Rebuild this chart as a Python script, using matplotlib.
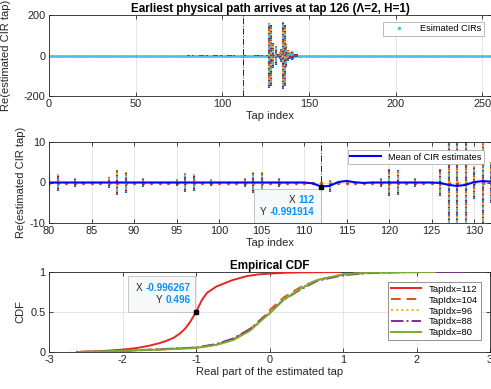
"""
CIR estimates: scatter of realizations, zoom with mean, and empirical CDF.
"""
import numpy as np
import matplotlib
matplotlib.use('Agg')
import matplotlib.pyplot as plt
import matplotlib.transforms as mtransforms
from matplotlib.lines import Line2D
from matplotlib.patches import Rectangle

plt.rcParams['font.family'] = ['Liberation Sans', 'DejaVu Sans']
plt.rcParams['axes.unicode_minus'] = False

MATLAB_COLORS = ['#0072BD', '#D95319', '#EDB120', '#7E2F8E', '#77AC30', '#4DBEEE', '#A2142F']

# taps with a visible spread of the estimated CIR (real part), half-width of the spread
stack_taps = [80, 81, 83, 87, 88, 89, 91, 95, 96, 97, 99, 103, 104, 105, 107,
              112, 113, 119, 120, 121, 123, 126, 127, 128, 129, 130, 131, 132,
              133, 134, 135, 136, 137, 138, 139, 140, 141, 142, 143]
stack_spread = [2.3, 2.2, 1.1, 1.3, 3.0, 2.6, 1.2, 0.9, 2.4, 2.2, 0.9, 1.2, 2.7, 2.5, 1.1,
                0.8, 1.5, 1.2, 3.4, 3.0, 1.1, 3.3, 160, 150, 60, 4, 45, 5,
                15, 30, 165, 150, 55, 25, 15, 20, 18, 8, 8]
n_taps = 256
noise_level = 0.0

# mean of the CIR estimates, taps 80..132
mean_taps = list(range(80, 133))
mean_vals = [0.0] * 31 + [-0.2, -0.99, -0.85, 0.1, 0.4, 0.05, -0.1, 0.0,
                          0.0, 0.0, 0.0, 0.0, 0.0, 0.0, 0.0,
                          -0.1, -0.6, -0.85, -0.6, 0.1, 0.35, 0.2]

first_path_tap = 112
tip2 = (112, -0.991914)
tip3 = (-0.996267, 0.496)

# empirical CDFs
cdf_labels = ['TapIdx=112', 'TapIdx=104', 'TapIdx=96', 'TapIdx=88', 'TapIdx=80']
cdf_x = [
    [-2.62, -2.3, -2.0, -1.8, -1.63, -1.5, -1.4, -1.3, -1.22, -1.15, -1.08, -1.0,
     -0.92, -0.85, -0.72, -0.5, -0.3, -0.15, 0.0, 0.2, 0.42, 0.7, 0.94],
    [-2.6, -2.0, -1.5, -1.0, -0.72, -0.49, -0.26, -0.08, 0.0, 0.19, 0.42, 0.65,
     1.0, 1.33, 1.7, 2.0, 2.3],
    [-2.55, -2.0, -1.5, -1.0, -0.72, -0.49, -0.26, -0.08, 0.0, 0.19, 0.42, 0.65,
     1.0, 1.33, 1.7, 2.0, 2.2],
    [-2.6, -2.0, -1.5, -1.0, -0.72, -0.49, -0.26, -0.08, 0.0, 0.19, 0.42, 0.65,
     1.0, 1.33, 1.7, 2.0, 2.4, 2.67],
    [-2.6, -2.0, -1.5, -1.0, -0.72, -0.49, -0.26, -0.08, 0.0, 0.19, 0.42, 0.65,
     1.0, 1.33, 1.7, 2.0, 2.25],
]
cdf_y = [
    [0.0, 0.01, 0.03, 0.05, 0.08, 0.11, 0.14, 0.18, 0.23, 0.29, 0.375, 0.5,
     0.65, 0.74, 0.82, 0.9, 0.95, 0.97, 0.98, 0.99, 0.995, 0.998, 1.0],
    [0.0, 0.015, 0.03, 0.055, 0.095, 0.16, 0.29, 0.44, 0.52, 0.68, 0.81, 0.9,
     0.97, 0.99, 0.997, 1.0, 1.0],
    [0.0, 0.015, 0.03, 0.05, 0.09, 0.155, 0.28, 0.43, 0.49, 0.66, 0.8, 0.9,
     0.965, 0.99, 0.997, 1.0, 1.0],
    [0.0, 0.015, 0.035, 0.055, 0.1, 0.17, 0.29, 0.43, 0.49, 0.65, 0.78, 0.89,
     0.96, 0.985, 0.995, 0.998, 1.0, 1.0],
    [0.0, 0.015, 0.03, 0.05, 0.09, 0.15, 0.27, 0.42, 0.48, 0.65, 0.79, 0.9,
     0.97, 0.99, 0.997, 1.0, 1.0],
]
cdf_colors = ['#E8251F', '#D95319', '#EDB120', '#7E2F8E', '#77AC30']
cdf_styles = ['-', (0, (5, 3)), ':', '-.', '-']

AX_COLOR = '#262626'
GRID_COLOR = '#E0E0E0'
TICK_FS = 7.9
LABEL_FS = 8.0
TIP_FS = 7.2


def style_axes(ax):
    for sp in ax.spines.values():
        sp.set_color(AX_COLOR)
        sp.set_linewidth(0.6)
    ax.tick_params(direction='in', length=3, width=0.6, colors=AX_COLOR,
                   labelsize=TICK_FS, pad=2.5, top=True, right=True,
                   labeltop=False, labelright=False)
    ax.grid(True, color=GRID_COLOR, linewidth=0.6)
    ax.set_axisbelow(True)


def draw_stacks(ax, taps, centers, spreads):
    taps = np.asarray(taps)
    centers = np.asarray(centers)
    spreads = np.asarray(spreads)
    n = len(MATLAB_COLORS)
    for k, c in enumerate(MATLAB_COLORS):
        ax.vlines(taps, centers - spreads, centers + spreads, colors=c,
                  linewidth=1.5, linestyles=[(k * 0.8, (0.8, 0.8 * (n - 1)))],
                  zorder=2)


def draw_datatip(fig, ax, xy, box, lines):
    # box = (x0, y0, w, h) in points relative to the data point
    trans = mtransforms.Affine2D().scale(fig.dpi / 72.0) + \
        mtransforms.ScaledTranslation(xy[0], xy[1], ax.transData)
    rect = Rectangle(box[:2], box[2], box[3], transform=trans,
                     facecolor='#F7F8FA', edgecolor='#BDBDBD', linewidth=0.6,
                     zorder=6)
    ax.add_patch(rect)
    for label, value, dx, dy in lines:
        tv = ax.annotate(value, xy=xy, xytext=(dx, dy), textcoords='offset points',
                         ha='right', va='center', fontsize=TIP_FS, fontweight='bold',
                         color='#0A93F5', zorder=7, annotation_clip=False)
        ax.annotate(label + ' ', xy=(0, 0.5), xycoords=tv, ha='right', va='center',
                    fontsize=TIP_FS, color=AX_COLOR, zorder=7)
    ax.plot([xy[0]], [xy[1]], 's', color='black', markersize=2.2, zorder=8)


W, H = 491, 389
fig = plt.figure(figsize=(W / 100, H / 100), dpi=100)
fig.patch.set_facecolor('white')

mean_lookup = dict(zip(mean_taps, mean_vals))
stack_centers = [mean_lookup.get(t, 0.0) if abs(mean_lookup.get(t, 0.0)) > 0.5 else 0.0
                 for t in stack_taps]

# ---------- panel 1 ----------
ax1 = fig.add_axes([49 / W, 1 - 96 / H, 442 / W, 81 / H])
style_axes(ax1)
all_taps = np.arange(n_taps)
ax1.plot(all_taps, np.full(n_taps, noise_level), '.', color='#4DBEEE',
         markersize=2.2, zorder=2)
draw_stacks(ax1, stack_taps, stack_centers, stack_spread)
ax1.axvline(first_path_tap, color=AX_COLOR, linestyle='-.', linewidth=0.7, zorder=3)
ax1.set_xlim(0, 255)
ax1.set_ylim(-200, 200)
ax1.set_xticks([0, 50, 100, 150, 200, 250])
ax1.set_yticks([-200, 0, 200])
ax1.set_xlabel('Tap index', fontsize=LABEL_FS, color=AX_COLOR, labelpad=1)
ax1.set_ylabel('Re(estimated CIR tap)', fontsize=LABEL_FS, color=AX_COLOR)
ax1.yaxis.set_label_coords(-0.087, 0.5)
ax1.set_title('Earliest physical path arrives at tap 126 (\u039b=2, H=1)',
              fontsize=8.4, fontweight='bold', color='black', pad=2)
h1 = Line2D([], [], linestyle='none', marker='.', color='#4DBEEE', markersize=3)
leg1 = ax1.legend([h1], ['Esimated CIRs'], loc='upper right', fontsize=6.6,
                  fancybox=False, framealpha=1, edgecolor='#B0B0B0',
                  handlelength=3.0, borderpad=0.3, bbox_to_anchor=(0.995, 0.975))
leg1.get_frame().set_linewidth(0.6)

# ---------- panel 2 ----------
ax2 = fig.add_axes([49 / W, 1 - 223 / H, 442 / W, 81 / H])
style_axes(ax2)
ax2.plot(mean_taps, np.full(len(mean_taps), noise_level), '.', color='#D95319',
         markersize=3, zorder=2)
draw_stacks(ax2, stack_taps, stack_centers, stack_spread)
ax2.plot(mean_taps, mean_vals, color='#0000FF', linewidth=1.5, zorder=4,
         label='Mean of CIR estimates')
ax2.axvline(first_path_tap, color=AX_COLOR, linestyle='-.', linewidth=0.7, zorder=3)
ax2.set_xlim(80, 132)
ax2.set_ylim(-10, 10)
ax2.set_xticks(list(range(80, 131, 5)))
ax2.set_yticks([-10, 0, 10])
ax2.set_xlabel('Tap index', fontsize=LABEL_FS, color=AX_COLOR, labelpad=1)
ax2.set_ylabel('Re(estimated CIR tap)', fontsize=LABEL_FS, color=AX_COLOR)
ax2.yaxis.set_label_coords(-0.052, 0.5)
leg2 = ax2.legend(loc='upper right', fontsize=6.6, fancybox=False, framealpha=1,
                  edgecolor='#B0B0B0', handlelength=3.3, borderpad=0.3,
                  bbox_to_anchor=(0.995, 0.96))
leg2.get_frame().set_linewidth(0.6)
draw_datatip(fig, ax2, tip2, (-48.5, -27, 48.5, 25.4),
             [('X', '112', -5, -9.4), ('Y', '-0.991914', -5, -18.7)])

# ---------- panel 3 ----------
ax3 = fig.add_axes([49 / W, 1 - 352 / H, 441 / W, 80 / H])
style_axes(ax3)
for xs, ys, c, ls, lab in zip(cdf_x, cdf_y, cdf_colors, cdf_styles, cdf_labels):
    ax3.plot(xs, ys, color=c, linestyle=ls, linewidth=1.4, label=lab, zorder=3)
ax3.set_xlim(-3, 3)
ax3.set_ylim(0, 1)
ax3.set_xticks([-3, -2, -1, 0, 1, 2, 3])
ax3.set_yticks([0, 0.5, 1])
ax3.set_yticklabels(['0', '0.5', '1'])
ax3.set_xlabel('Real part of the estimated tap', fontsize=LABEL_FS, color=AX_COLOR,
               labelpad=1)
ax3.set_ylabel('CDF', fontsize=LABEL_FS, color=AX_COLOR)
ax3.yaxis.set_label_coords(-0.054, 0.5)
ax3.set_title('Empirical CDF', fontsize=8.4, fontweight='bold', color='black', pad=2)
leg3 = ax3.legend(loc='upper right', fontsize=6.8, fancybox=False, framealpha=1,
                  edgecolor='#7F7F7F', handlelength=3.2, borderpad=0.3,
                  labelspacing=0.2, bbox_to_anchor=(0.99, 0.935))
leg3.get_frame().set_linewidth(0.6)
draw_datatip(fig, ax3, tip3, (-49, 0.5, 48.3, 25.5),
             [('X', '-0.996267', -4.3, 17.3), ('Y', '0.496', -4.3, 8.6)])

fig.savefig('out.png', dpi=100, facecolor='white')
